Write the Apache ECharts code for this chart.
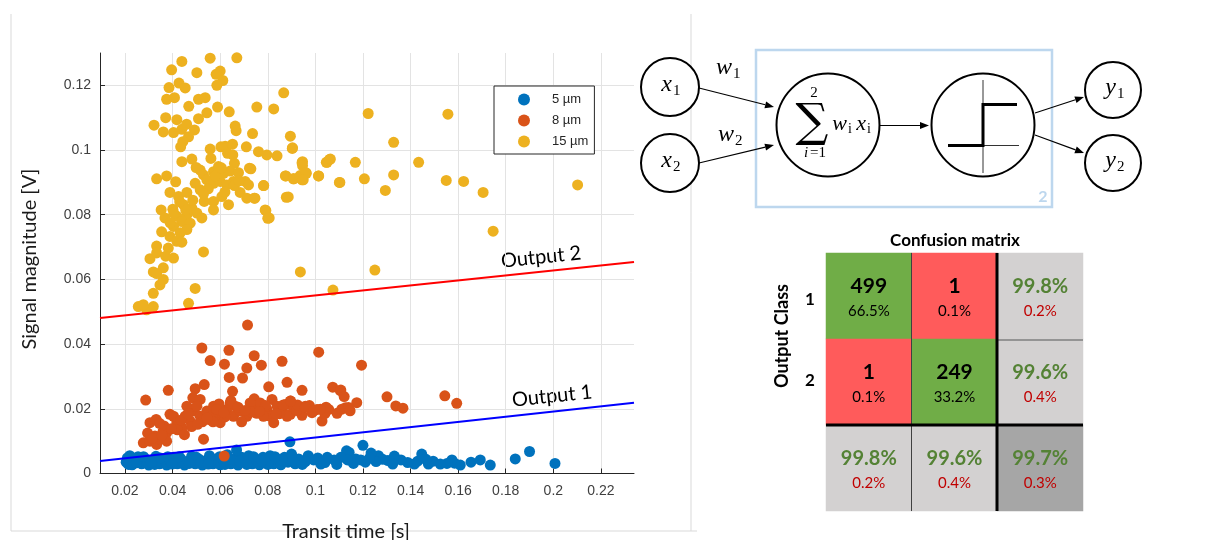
<!DOCTYPE html>
<html>
<head>
<meta charset="utf-8">
<script src="https://cdn.jsdelivr.net/npm/echarts@6/dist/echarts.min.js"></script>
<style>
  html, body { margin: 0; padding: 0; background: #ffffff; }
  #chart { width: 1210px; height: 540px; }
</style>
</head>
<body>
<div id="chart"></div>
<script>
// ---- Scatter data: [transit time (s), signal magnitude (V)] ----
const particle5um = [
  [0.0205,0.0035],[0.021,0.0048],[0.023,0.0027],[0.024,0.004],[0.0255,0.0052],[0.027,0.003],[0.0285,0.0045],[0.030,0.0026],
  [0.0315,0.004],[0.033,0.0053],[0.0345,0.003],[0.036,0.0045],[0.0375,0.0026],[0.039,0.0038],[0.0405,0.005],[0.042,0.003],
  [0.0435,0.0045],[0.045,0.0026],[0.0465,0.0038],[0.048,0.0053],[0.0495,0.003],[0.051,0.0045],[0.0525,0.0026],[0.054,0.004],
  [0.0555,0.0055],[0.057,0.003],[0.0585,0.0045],[0.060,0.0027],[0.0615,0.004],[0.063,0.0058],[0.0645,0.003],[0.066,0.0045],
  [0.0675,0.0026],[0.069,0.005],[0.0705,0.0035],[0.072,0.0055],[0.0735,0.003],[0.075,0.0045],[0.0765,0.0027],[0.078,0.005],
  [0.0795,0.0035],[0.081,0.0055],[0.0825,0.003],[0.084,0.0045],[0.0855,0.0027],[0.087,0.005],[0.0885,0.0035],[0.0893,0.0098],
  [0.090,0.006],[0.0915,0.003],[0.093,0.0045],[0.0669,0.0073],[0.1131,0.007],
  [0.022,0.0055],[0.0265,0.0038],[0.0325,0.0028],[0.038,0.0052],[0.0445,0.0035],[0.05,0.005],[0.0565,0.0042],[0.062,0.0028],
  [0.068,0.0038],[0.074,0.0052],[0.080,0.0028],[0.086,0.0042],[0.097,0.0055],[0.101,0.0048],[0.117,0.0045],[0.1265,0.0055],
  [0.1305,0.004],[0.143,0.0038],[0.1495,0.0038],[0.1585,0.0032],
  [0.0215,0.0028],[0.0248,0.0033],[0.0278,0.0052],[0.031,0.0034],[0.0348,0.0048],[0.0398,0.0029],[0.0428,0.0052],[0.047,0.0031],
  [0.0518,0.0034],[0.055,0.0029],[0.0598,0.0052],[0.064,0.0044],[0.0712,0.0028],[0.0775,0.0038],[0.083,0.0052],[0.0905,0.0038],
  [0.0945,0.0028],[0.104,0.0034],[0.109,0.0028],[0.116,0.0031],[0.121,0.0035],
  [0.12,0.0087],[0.19,0.0068],[0.184,0.0045],[0.2007,0.0031],[0.1735,0.0026],[0.1693,0.0042],[0.1654,0.0035],[0.1609,0.0026],
  [0.1574,0.0042],[0.1553,0.0031],[0.1525,0.0029],[0.1475,0.0029],[0.1447,0.006],[0.1465,0.0044],[0.1416,0.0029],[0.1388,0.0034],
  [0.136,0.0042],[0.1332,0.0054],[0.1325,0.0029],[0.1283,0.0044],[0.1255,0.0037],[0.1234,0.0063],[0.1227,0.0047],[0.1191,0.0042],
  [0.1142,0.0065],[0.1135,0.0042],[0.1107,0.005],[0.1079,0.0042],[0.105,0.005],[0.1023,0.0029],[0.0993,0.0042],[0.0958,0.0037]
];

const particle8um = [
  [0.0715,0.0459],[0.0523,0.0388],[0.0637,0.0381],[0.0558,0.0349],[0.0618,0.0338],[0.0743,0.0364],[0.0712,0.0326],[0.0773,0.0335],
  [0.086,0.0347],[0.0638,0.0297],[0.0694,0.0295],[0.1014,0.0375],[0.0881,0.0282],[0.0382,0.0257],[0.0495,0.0262],[0.0533,0.0275],
  [0.0652,0.0254],[0.0804,0.0268],[0.0944,0.0257],[0.1073,0.0267],[0.1105,0.0256],[0.0287,0.0227],[0.0485,0.0234],[0.0516,0.0229],
  [0.0743,0.0231],[0.0818,0.0229],[0.0895,0.0224],
  [0.0277,0.0095],[0.0305,0.01],[0.0326,0.0116],[0.0333,0.009],[0.0305,0.0157],[0.0331,0.0167],[0.0364,0.0147],[0.0375,0.0126],
  [0.0389,0.0183],[0.0418,0.0157],[0.0453,0.0177],[0.0439,0.0142],[0.0474,0.0162],[0.0488,0.0193],[0.053,0.0106],[0.0516,0.0177],
  [0.0544,0.0193],[0.0551,0.0167],[0.0572,0.0208],[0.0586,0.0183],[0.06,0.0157],[0.0628,0.0198],[0.0656,0.0177],[0.0663,0.0208],
  [0.0684,0.0193],[0.0712,0.0177],[0.074,0.0203],[0.0754,0.0186],[0.0768,0.0218],[0.0796,0.0198],[0.0811,0.0177],[0.0825,0.0157],
  [0.0839,0.0208],[0.086,0.0198],[0.0874,0.0213],[0.0895,0.0183],[0.0909,0.0203],[0.0944,0.018],[0.0958,0.0208],[0.0986,0.0188],
  [0.1007,0.0198],[0.1028,0.0162],[0.1056,0.0198],[0.1091,0.0186],[0.1126,0.0203],[0.0404,0.0177],[0.046,0.0208],[0.0502,0.0208],
  [0.0565,0.0177],[0.0642,0.0218],[0.0726,0.0218],[0.0782,0.0177],[0.0881,0.0177],[0.0347,0.0106],[0.0375,0.01],
  [0.0295,0.0125],[0.036,0.013],[0.042,0.0135],[0.048,0.0145],[0.045,0.012],[0.057,0.016],[0.062,0.0175],[0.069,0.016],
  [0.073,0.019],[0.079,0.021],[0.085,0.0185],[0.092,0.0195],[0.0975,0.021],[0.104,0.0185],[0.0645,0.0225],[0.0595,0.0215],
  [0.0525,0.016],[0.0345,0.0155],
  [0.0315,0.0108],[0.0355,0.0118],[0.0395,0.0138],[0.0435,0.0165],[0.0465,0.0185],[0.0505,0.0152],[0.0545,0.0172],[0.0585,0.0198],
  [0.0615,0.0188],[0.0675,0.0205],[0.0705,0.0195],[0.0765,0.0192],[0.0835,0.0185],[0.0865,0.0212],[0.0925,0.0212],[0.1045,0.0205],
  [0.1194,0.0335],[0.1107,0.0258],[0.1121,0.0238],[0.1174,0.0219],[0.1301,0.0237],[0.1338,0.0209],[0.1368,0.0202],[0.1544,0.024],
  [0.1594,0.0217],[0.0958,0.0204],[0.0993,0.0194],[0.1021,0.0199],[0.1111,0.0199],[0.1139,0.0204],[0.1146,0.0194],[0.0896,0.0224],
  [0.0617,0.0054]
];

const particle15um = [
  [0.0439,0.1274],[0.0558,0.1284],[0.067,0.1285],[0.0396,0.1248],[0.0502,0.1239],[0.06,0.1244],[0.0583,0.1234],[0.0611,0.1215],
  [0.0586,0.12],[0.0427,0.1207],[0.0385,0.1193],[0.0453,0.1192],[0.0375,0.1157],[0.0408,0.1162],[0.0509,0.1157],[0.0537,0.1162],
  [0.0468,0.1135],[0.0589,0.1133],[0.0544,0.1115],[0.0638,0.1118],[0.0867,0.1177],[0.0754,0.1133],[0.0825,0.1127],[0.0322,0.1077],
  [0.0371,0.11],[0.0418,0.1094],[0.0361,0.1056],[0.0404,0.1054],[0.0459,0.108],[0.0439,0.1064],[0.0492,0.1062],[0.0509,0.1097],
  [0.0467,0.1041],[0.0443,0.1026],[0.0434,0.101],[0.0663,0.1074],[0.0667,0.106],[0.0736,0.1051],[0.0895,0.1043],[0.0903,0.1005],
  [0.0558,0.1003],[0.0603,0.101],[0.0621,0.1012],[0.0652,0.1018],[0.071,0.101],[0.0631,0.099],[0.0653,0.0985],[0.0761,0.0995],
  [0.0796,0.0985],[0.0839,0.0982],[0.0439,0.0964],[0.0481,0.0972],[0.0561,0.0974],[0.066,0.0959],[0.0944,0.0961],[0.106,0.0971],
  [0.1046,0.0962],[0.0333,0.0911],[0.0375,0.092],[0.0413,0.0902],[0.0499,0.0946],[0.0516,0.0938],[0.053,0.0923],[0.0572,0.0933],
  [0.0593,0.0949],[0.0614,0.0928],[0.0642,0.0935],[0.0677,0.093],[0.0723,0.0944],[0.0705,0.0903],[0.0544,0.0908],[0.0495,0.0897],
  [0.0572,0.0897],[0.06,0.0903],[0.0628,0.0892],[0.0656,0.0903],[0.0719,0.0892],[0.0783,0.089],[0.0874,0.092],[0.0909,0.0911],
  [0.0944,0.0908],[0.0962,0.0928],[0.1014,0.092],[0.1101,0.09],[0.0878,0.0854],[0.0389,0.0869],[0.0425,0.0856],[0.046,0.0869],
  [0.0516,0.0877],[0.0533,0.0841],[0.0572,0.0841],[0.0607,0.0856],[0.0635,0.0831],[0.0684,0.0869],[0.0712,0.0851],[0.0743,0.0851],
  [0.0789,0.0815],[0.08,0.0789],[0.0352,0.0815],[0.0401,0.0817],[0.0446,0.0831],[0.0481,0.082],[0.0502,0.0805],[0.046,0.08],
  [0.0418,0.0795],[0.0368,0.079],[0.0439,0.0779],[0.0474,0.0774],[0.0523,0.079],[0.0572,0.0815],[0.0404,0.0764],[0.046,0.0754],
  [0.0354,0.0747],[0.0389,0.0733],[0.0432,0.0744],[0.0418,0.0718],[0.0439,0.0715],[0.0333,0.0703],[0.0382,0.0697],[0.053,0.0685],
  [0.0305,0.0664],[0.0333,0.0682],[0.0371,0.0672],[0.0404,0.0666],[0.0361,0.0636],[0.0319,0.0623],[0.0937,0.0623],
  [0.0347,0.0583],[0.0361,0.06],[0.0319,0.0557],[0.0495,0.0572],[0.0467,0.0526],[0.0256,0.0516],[0.0291,0.0506],[0.0319,0.0516],
  [0.0277,0.0522],[0.1074,0.0567],[0.0333,0.0618],
  [0.1222,0.1113],[0.1557,0.1111],[0.0904,0.1007],[0.1329,0.1024],[0.0946,0.0964],[0.0946,0.0952],[0.1049,0.0962],[0.1063,0.0972],
  [0.1168,0.0962],[0.1434,0.0962],[0.0729,0.0942],[0.0876,0.092],[0.0908,0.0911],[0.0936,0.0921],[0.096,0.093],[0.0949,0.0908],
  [0.1013,0.092],[0.1103,0.09],[0.1206,0.0911],[0.1329,0.0923],[0.1294,0.0875],[0.155,0.0906],[0.0782,0.089],[0.0746,0.0851],
  [0.0886,0.0855],[0.0792,0.0813],[0.0806,0.079],[0.125,0.0629],[0.1623,0.0903],[0.1705,0.0869],[0.2102,0.0892],[0.1747,0.0749],
  [0.055,0.088],[0.058,0.092],[0.062,0.087],[0.066,0.089],[0.053,0.0865],[0.0485,0.0845],[0.0455,0.0815],[0.043,0.084],
  [0.0405,0.0805],[0.039,0.0775],[0.068,0.0905],[0.0605,0.0945]
];

// Decision boundaries (end points across the axis range)
const output1Line = [[0.0095, 0.00386], [0.2339, 0.0219]];
const output2Line = [[0.0095, 0.0481], [0.2339, 0.0654]];

const seriesNames = ['5 µm', '8 µm', '15 µm'];
const xTicks = [0.02, 0.04, 0.06, 0.08, 0.1, 0.12, 0.14, 0.16, 0.18, 0.2, 0.22];
const xTickLabels = ['0.02', '0.04', '0.06', '0.08', '0.1', '0.12', '0.14', '0.16', '0.18', '0.2', '0.22'];
const yTicks = [0, 0.02, 0.04, 0.06, 0.08, 0.1, 0.12];
const yTickLabels = ['0', '0.02', '0.04', '0.06', '0.08', '0.1', '0.12'];

// ---- Confusion matrix ----
const classLabels = ['1', '2'];
const cmCounts = [[499, 1], [1, 249]];
const cmShares = [['66.5%', '0.1%'], ['0.1%', '33.2%']];
const rowSummary = [['99.8%', '0.2%'], ['99.6%', '0.4%']];
const colSummary = [['99.8%', '0.2%'], ['99.6%', '0.4%']];
const overallSummary = ['99.7%', '0.3%'];

const C_BLUE = '#0072BD', C_ORANGE = '#D95319', C_YELLOW = '#EDB120';
const UI_FONT = 'Lato, "Open Sans", sans-serif';
const MATH_FONT = '"Liberation Serif", "DejaVu Serif", serif';

const chart = echarts.init(document.getElementById('chart'), null, { renderer: 'canvas' });

// heatmap cells for the confusion matrix
const cmCells = [];
for (let r = 0; r < 2; r++) {
  for (let c = 0; c < 2; c++) {
    cmCells.push({
      value: [c, r, cmCounts[r][c]],
      itemStyle: { color: r === c ? '#70AD47' : '#FF5B5B' },
      label: { formatter: '{n|' + cmCounts[r][c] + '}\n{p|' + cmShares[r][c] + '}' }
    });
  }
  cmCells.push({
    value: [2, r, 0],
    itemStyle: { color: '#D3D1D1' },
    label: { formatter: '{g|' + rowSummary[r][0] + '}\n{r|' + rowSummary[r][1] + '}' }
  });
}
for (let c = 0; c < 2; c++) {
  cmCells.push({
    value: [c, 2, 0],
    itemStyle: { color: '#D3D1D1' },
    label: { formatter: '{g|' + colSummary[c][0] + '}\n{r|' + colSummary[c][1] + '}' }
  });
}
cmCells.push({
  value: [2, 2, 0],
  itemStyle: { color: '#A6A6A6' },
  label: { formatter: '{g|' + overallSummary[0] + '}\n{r|' + overallSummary[1] + '}' }
});

// ---- diagram helpers ----
function txt(text, x, y, font, fill, align) {
  align = align || 'center';
  return {
    type: 'text', x: x, y: y, silent: true,
    style: { text: text, font: font, fill: fill || '#000',
             align: align, verticalAlign: 'middle', textAlign: align, textVerticalAlign: 'middle' }
  };
}
function circ(cx, cy, r) {
  return { type: 'circle', silent: true, shape: { cx: cx, cy: cy, r: r },
           style: { fill: '#fff', stroke: '#000', lineWidth: 2 } };
}
function seg(points, width, color, z) {
  return { type: 'polyline', silent: true, z: z || 0, shape: { points: points },
           style: { fill: null, stroke: color || '#000', lineWidth: width } };
}
function arrow(x1, y1, x2, y2) {
  const a = Math.atan2(y2 - y1, x2 - x1), L = 9, W = 3.5;
  const bx = x2 - L * Math.cos(a), by = y2 - L * Math.sin(a);
  return [
    seg([[x1, y1], [bx, by]], 1.2),
    { type: 'polygon', silent: true,
      shape: { points: [[x2, y2], [bx - W * Math.sin(a), by + W * Math.cos(a)], [bx + W * Math.sin(a), by - W * Math.cos(a)]] },
      style: { fill: '#000' } }
  ];
}
// italic symbol with an upright subscript placed just after it
function subscripted(main, sub, x, y, size) {
  return [
    txt(main, x, y, 'italic ' + size + 'px ' + MATH_FONT, '#000', 'right'),
    txt(sub, x + 1, y + size * 0.24, Math.round(size * 0.64) + 'px ' + MATH_FONT, '#000', 'left')
  ];
}

const diagram = [].concat(
  // plot panel outline
  [seg([[11, 14], [11, 531], [697, 531]], 1, '#d9d9d9'), seg([[691, 14], [691, 531]], 1, '#d9d9d9')],
  // neuron box
  [{ type: 'rect', silent: true, shape: { x: 756, y: 50, width: 296, height: 157 },
     style: { fill: null, stroke: '#BDD7EE', lineWidth: 2.5 } },
   txt('2', 1043, 197, 'bold 16px ' + UI_FONT, '#BDD7EE')],
  arrow(699, 88, 774, 107),
  arrow(699, 163, 774, 145),
  arrow(880, 125.5, 929, 125.5),
  arrow(1035, 113, 1084, 97),
  arrow(1035, 135, 1084, 153),
  [circ(670, 87, 29), circ(670, 163, 29), circ(828, 125, 51.5), circ(983, 125, 51.5),
   circ(1113, 90, 28), circ(1113, 163, 28)],
  subscripted('x', '1', 672, 85, 24),
  subscripted('x', '2', 672, 161, 24),
  subscripted('y', '1', 1116, 88, 24),
  subscripted('y', '2', 1116, 161, 24),
  subscripted('w', '1', 732, 68, 24),
  subscripted('w', '2', 734, 135, 24),
  [txt('\u2211', 812, 124, '46px "DejaVu Serif", serif', '#000'),
   txt('2', 814, 93, '15px ' + MATH_FONT, '#000'),
   txt('i', 806, 153, 'italic 15px ' + MATH_FONT, '#000'),
   txt('=1', 818, 153, '15px ' + MATH_FONT, '#000')],
  subscripted('w', 'i', 847, 124, 22),
  subscripted('x', 'i', 866, 124, 22),
  // step activation
  [seg([[983, 80], [983, 173]], 1, '#333'), seg([[948, 145.5], [1019, 145.5]], 1, '#333'),
   seg([[948, 145.5], [983, 145.5], [983, 104.5], [1017, 104.5]], 3, '#000')],
  // axis titles of the scatter plot
  [txt('Transit time [s]', 346, 532, '20px ' + UI_FONT, '#1a1a1a'),
   Object.assign(txt('Signal magnitude [V]', 30, 259, '20px ' + UI_FONT, '#1a1a1a'), { rotation: Math.PI / 2 })],
  // boundary labels
  [Object.assign(txt('Output 2', 541, 257, '20px ' + UI_FONT, '#000'), { rotation: 0.105 }),
   Object.assign(txt('Output 1', 552, 396, '20px ' + UI_FONT, '#000'), { rotation: 0.105 })],
  // confusion matrix titles
  [txt('Confusion matrix', 955, 241, 'bold 17px ' + UI_FONT, '#000'),
   Object.assign(txt('Output Class', 782, 336, 'bold 18px ' + UI_FONT, '#000'), { rotation: Math.PI / 2 }),
   txt(classLabels[0], 810, 300, 'bold 17px ' + UI_FONT, '#000'),
   txt(classLabels[1], 810, 381, 'bold 17px ' + UI_FONT, '#000')],
  // confusion matrix cell dividers
  [seg([[911.5, 253], [911.5, 511]], 1, '#404040', 100),
   seg([[997, 340], [1083, 340]], 1.5, '#7f7f7f', 100),
   seg([[997, 253], [997, 511]], 3, '#000', 100),
   seg([[826, 425], [1083, 425]], 3, '#000', 100)]
);

const scatterCommon = { type: 'scatter', symbol: 'circle', symbolSize: 11, silent: true,
                        xAxisIndex: 0, yAxisIndex: 0, emphasis: { disabled: true } };

const option = {
  animation: false,
  backgroundColor: '#ffffff',
  grid: [
    { left: 100, top: 53, width: 534, height: 420.5, containLabel: false },
    { left: 826, top: 253, width: 257, height: 258, containLabel: false }
  ],
  xAxis: [
    {
      type: 'value', gridIndex: 0, min: 0.0095, max: 0.2339,
      axisLine: { show: true, onZero: false, lineStyle: { color: '#262626', width: 1 } },
      axisTick: { show: true, inside: true, length: 5, customValues: xTicks, lineStyle: { color: '#262626' } },
      axisLabel: { customValues: xTicks, margin: 11, fontFamily: 'Liberation Sans', fontSize: 14, color: '#404040',
                   formatter: v => xTickLabels[xTicks.findIndex(t => Math.abs(t - v) < 1e-9)] },
      splitLine: { show: true, lineStyle: { color: '#e3e3e3', width: 1 } }
    },
    { type: 'category', gridIndex: 1, data: ['1', '2', 'all'], show: false }
  ],
  yAxis: [
    {
      type: 'value', gridIndex: 0, min: 0, max: 0.13,
      axisLine: { show: true, onZero: false, lineStyle: { color: '#262626', width: 1 } },
      axisTick: { show: true, inside: true, length: 5, customValues: yTicks, lineStyle: { color: '#262626' } },
      axisLabel: { customValues: yTicks, margin: 9, fontFamily: 'Liberation Sans', fontSize: 14, color: '#404040',
                   formatter: v => yTickLabels[yTicks.findIndex(t => Math.abs(t - v) < 1e-9)] },
      splitLine: { show: true, lineStyle: { color: '#e3e3e3', width: 1 } }
    },
    { type: 'category', gridIndex: 1, data: ['1', '2', 'all'], inverse: true, show: false }
  ],
  legend: {
    data: seriesNames, orient: 'vertical', left: 494, top: 86,
    icon: 'circle', itemWidth: 12, itemHeight: 12, itemGap: 8,
    padding: [7, 6, 6, 24], borderColor: '#262626', borderWidth: 1, backgroundColor: '#ffffff',
    selectedMode: false,
    textStyle: { fontFamily: 'Liberation Sans', fontSize: 13, color: '#262626', padding: [0, 0, 0, 17] }
  },
  graphic: { elements: diagram },
  series: [
    Object.assign({ name: seriesNames[0], data: particle5um, itemStyle: { color: C_BLUE, opacity: 1 } }, scatterCommon),
    Object.assign({ name: seriesNames[1], data: particle8um, itemStyle: { color: C_ORANGE, opacity: 1 } }, scatterCommon),
    Object.assign({ name: seriesNames[2], data: particle15um, itemStyle: { color: C_YELLOW, opacity: 1 } }, scatterCommon),
    { name: 'Output 1', type: 'line', data: output1Line, showSymbol: false, silent: true,
      lineStyle: { color: '#0000FF', width: 2 }, z: 5 },
    { name: 'Output 2', type: 'line', data: output2Line, showSymbol: false, silent: true,
      lineStyle: { color: '#FF0000', width: 2 }, z: 5 },
    {
      type: 'heatmap', xAxisIndex: 1, yAxisIndex: 1, data: cmCells, silent: true,
      itemStyle: { borderWidth: 0 },
      emphasis: { disabled: true },
      label: {
        show: true, offset: [0, 3],
        rich: {
          n: { fontFamily: UI_FONT, fontSize: 21, fontWeight: 'bold', color: '#000', lineHeight: 25 },
          p: { fontFamily: UI_FONT, fontSize: 15, color: '#000', lineHeight: 25 },
          g: { fontFamily: UI_FONT, fontSize: 20, fontWeight: 'bold', color: '#548235', lineHeight: 25 },
          r: { fontFamily: UI_FONT, fontSize: 15, color: '#C00000', lineHeight: 25 }
        }
      }
    }
  ]
};

chart.setOption(option);
</script>
</body>
</html>
